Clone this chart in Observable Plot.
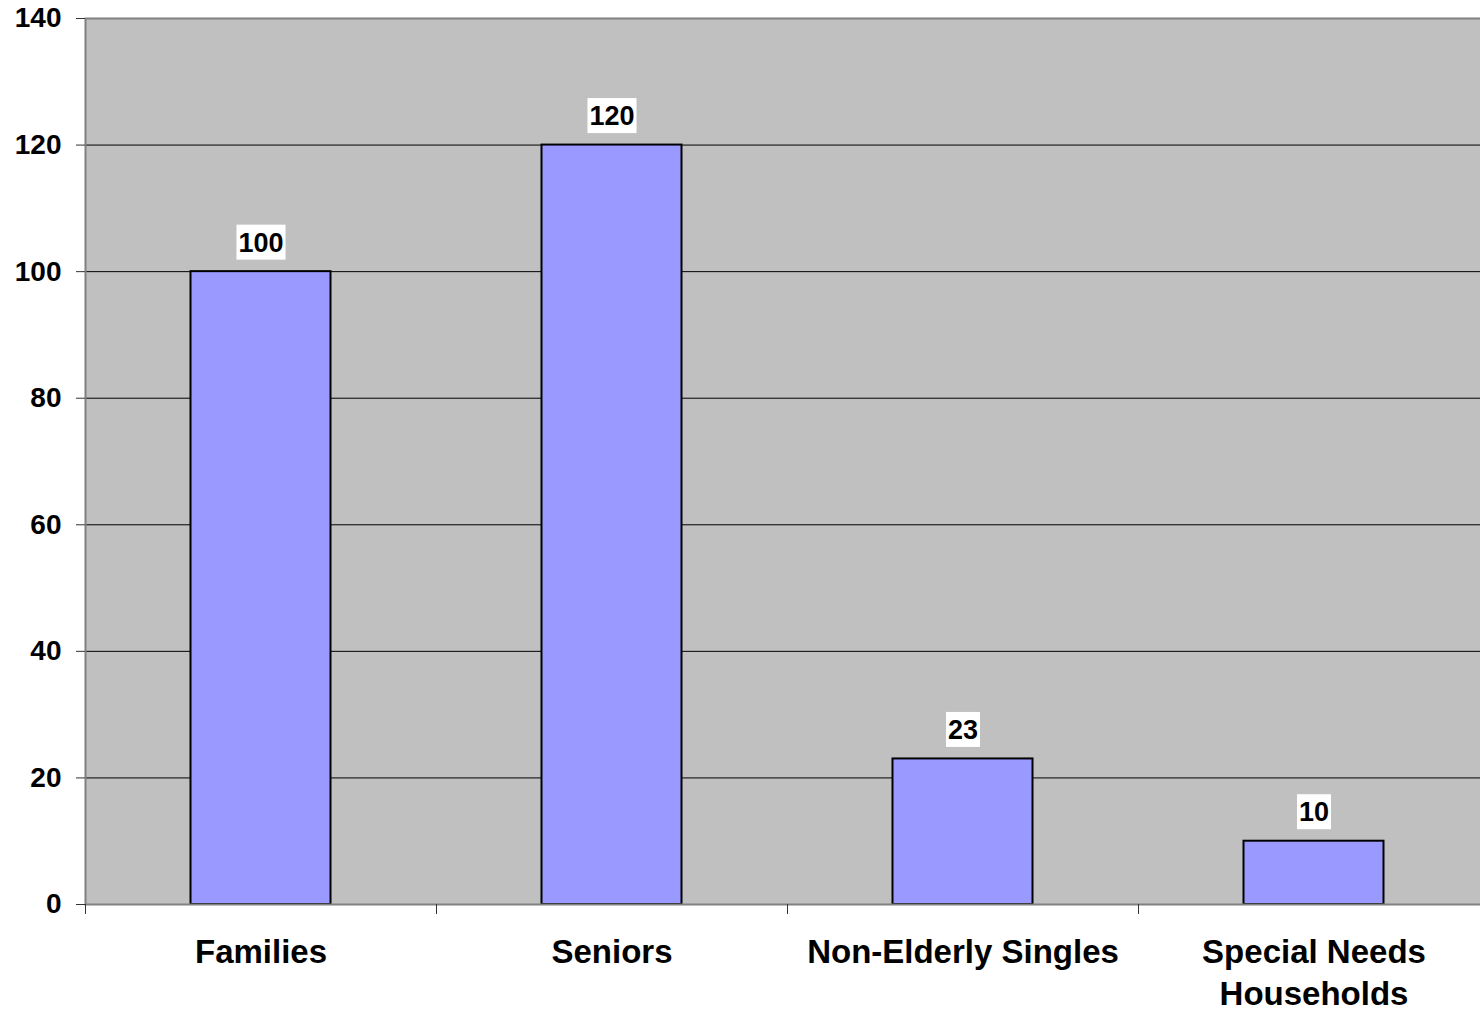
<!DOCTYPE html>
<html>
<head>
<meta charset="utf-8">
<script src="https://cdn.jsdelivr.net/npm/d3@7"></script>
<script src="https://cdn.jsdelivr.net/npm/@observablehq/plot@0.6"></script>
<style>
  html, body { margin: 0; padding: 0; background: #fff; overflow: hidden; }
</style>
</head>
<body>
<div id="chart"></div>
<script>
// Household categories and their counts
const categories = ["Families", "Seniors", "Non-Elderly Singles", "Special Needs Households"];
const values = [100, 120, 23, 10];
// Category labels as written under the axis (two lines for the last one)
const categoryLabels = ["Families", "Seniors", "Non-Elderly Singles", "Special Needs\nHouseholds"];
// Value axis ticks
const yTicks = [0, 20, 40, 60, 80, 100, 120, 140];

const data = categories.map((c, i) => ({category: c, value: values[i]}));
const labelOf = new Map(categories.map((c, i) => [c, categoryLabels[i]]));

const W = 1480, H = 1013;
const marginLeft = 85, marginTop = 18, marginBottom = 109;
const step = 351; // width of one category band
const xRange = [marginLeft, marginLeft + step * categories.length];
const font = "'Liberation Sans', Arial, Helvetica, sans-serif";

const chart = Plot.plot({
  width: W,
  height: H,
  marginLeft,
  marginTop,
  marginBottom,
  marginRight: W - xRange[1],
  style: {fontFamily: font, background: "#fff", overflow: "hidden", color: "#000"},
  x: {domain: categories, range: xRange, padding: 0, axis: null},
  y: {domain: [0, 140], axis: null},
  marks: [
    // plot area background
    Plot.frame({fill: "#c0c0c0"}),
    // horizontal gridlines
    Plot.ruleY(yTicks.filter(t => t > 0 && t < 140), {stroke: "#000", strokeWidth: 1}),
    // bars
    Plot.barY(data, {
      x: "category", y: "value",
      fill: "#9999ff", stroke: "#000", strokeWidth: 2,
      insetLeft: 105.5, insetRight: 105.5
    }),
    // plot area border
    Plot.frame({stroke: "#808080", strokeWidth: 2}),
    // value axis: ticks and labels
    Plot.axisY(yTicks, {
      label: null,
      tickSize: 9, tickPadding: 15, stroke: "#333",
      fontSize: 28, fontWeight: "bold", fill: "#000"
    }),
    // category separators below the baseline
    Plot.ruleX(categories, {
      x: d => d, dx: -step / 2, y1: 0, y2: 0,
      insetBottom: -10, stroke: "#333", strokeWidth: 1
    }),
    // category labels
    Plot.text(data, {
      x: "category", text: d => labelOf.get(d.category),
      frameAnchor: "bottom", lineAnchor: "top", dy: 28,
      fontSize: 33, fontWeight: "bold", fill: "#000", lineHeight: 1.28
    }),
    // value labels above bars
    Plot.text(data, {
      x: "category", y: "value", text: d => String(d.value),
      lineAnchor: "bottom", dy: -20,
      fontSize: 27, fontWeight: "bold", fill: "#000",
      ariaDescription: "value labels"
    })
  ]
});

document.getElementById("chart").append(chart);

// white boxes behind the value labels, sized to each rendered label
let group = chart.querySelector('g[aria-description="value labels"]');
if (!group) {
  const groups = chart.querySelectorAll('g[aria-label="text"]');
  group = groups[groups.length - 1];
}
if (group) {
  const ns = "http://www.w3.org/2000/svg";
  for (const t of Array.from(group.querySelectorAll("text"))) {
    const bb = t.getBBox();
    const r = document.createElementNS(ns, "rect");
    r.setAttribute("x", bb.x - 2);
    r.setAttribute("y", bb.y - 3);
    r.setAttribute("width", bb.width + 4);
    r.setAttribute("height", bb.height + 5);
    r.setAttribute("fill", "#fff");
    r.setAttribute("stroke", "none");
    const tr = t.getAttribute("transform");
    if (tr) r.setAttribute("transform", tr);
    group.insertBefore(r, t);
  }
}
</script>
</body>
</html>
